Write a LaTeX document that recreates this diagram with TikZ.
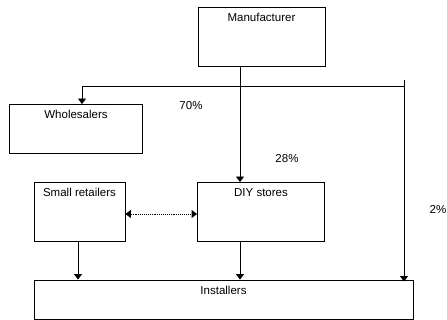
\documentclass[tikz,border=0pt]{standalone}
\usepackage{fontspec}
\setmainfont{Liberation Sans}
\usetikzlibrary{arrows.meta}

\begin{document}
\begin{tikzpicture}[x=1pt, y=-1pt,
    box/.style={draw, line width=0.9pt, inner sep=0pt},
    lbl/.style={anchor=north, inner sep=0pt, yshift=-6pt, font=\fontsize{11.5}{13}\selectfont},
    pct/.style={inner sep=0pt, font=\fontsize{11.5}{13}\selectfont},
    flow/.style={line width=0.9pt, -{Triangle[width=8pt,length=5.5pt]}}]
    \useasboundingbox (0,0) rectangle (447,320);

    \node[box, minimum width=127pt, minimum height=59pt, label={[lbl]north:Manufacturer}] (manu) at (261.5,36.5) {};
    \node[box, minimum width=133pt, minimum height=49pt, label={[lbl]north:Wholesalers}] (whole) at (76,129) {};
    \node[box, minimum width=91pt, minimum height=59pt, label={[lbl]north:Small retailers}] (small) at (79.5,212) {};
    \node[box, minimum width=127pt, minimum height=59pt, label={[lbl]north:DIY stores}] (diy) at (261,212) {};
    \node[box, minimum width=379pt, minimum height=39pt, label={[lbl]north:Installers}] (inst) at (223.5,299.5) {};

    \coordinate (trunk) at (240,86);
    \coordinate (left) at (82,86);
    \coordinate (right) at (404,86);
    \coordinate (top) at (404,80);

    \draw[flow] (manu.south -| trunk) -- (diy.north -| trunk);
    \draw[flow] (right) -- (left) -- (left |- whole.north);
    \draw[flow, shorten >=-2pt] (top) -- (top |- inst.north);
    \draw[flow] (small.south -| 78,0) -- (inst.north -| 78,0);
    \draw[flow] (diy.south -| trunk) -- (inst.north -| trunk);
    \draw[line width=0.9pt, densely dotted, {Triangle[width=8pt,length=5.5pt]}-{Triangle[width=8pt,length=5.5pt]}] (small.east |- 0,214) -- (diy.west |- 0,214);

    \node[pct] (p70) at (191,106) {70\%};
    \node[pct] (p28) at (287,159) {28\%};
    \node[pct] (p2) at (438,210) {2\%};
\end{tikzpicture}
\end{document}
